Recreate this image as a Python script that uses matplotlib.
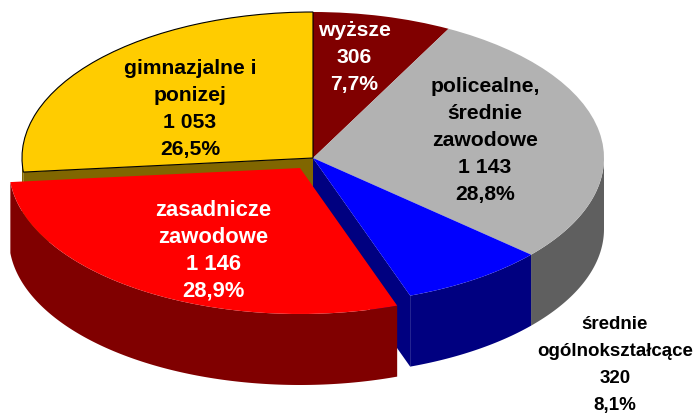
import numpy as np
import matplotlib
matplotlib.use('Agg')
import matplotlib.pyplot as plt
from matplotlib.patches import Wedge, Polygon
from matplotlib.transforms import Affine2D

plt.rcParams['font.family'] = ['Liberation Sans', 'DejaVu Sans']

# slices clockwise from 12 o'clock
names = ['wyższe', 'policealne,\nśrednie\nzawodowe', 'średnie\nogólnokształcące',
         'zasadnicze\nzawodowe', 'gimnazjalne i\nponizej']
values = [306, 1143, 320, 1146, 1053]
value_labels = ['306', '1 143', '320', '1 146', '1 053']
pct_labels = ['7,7%', '28,8%', '8,1%', '28,9%', '26,5%']

top_colors = ['#800000', '#B2B2B2', '#0000FF', '#FF0000', '#FFCC00']
side_colors = ['#800000', '#5F5F5F', '#000080', '#800000', '#806600']
text_colors = ['white', 'black', 'black', 'white', 'black']
offsets = [(0, 0), (0, 0), (0, 0), (-13, 10), (0, 0)]
label_pos = [(354, 31), (485, 87), (615, 325), (213, 211), (190, 69)]
label_size = [15.2, 15.2, 13.5, 15.8, 15.2]

cx, cy = 313, 159
rx, ry = 291, 146
depth = 71
line_h = 26.8

fig = plt.figure(figsize=(6.96, 4.14), dpi=100)
ax = fig.add_axes([0, 0, 1, 1])
ax.set_xlim(0, 696)
ax.set_ylim(414, 0)
ax.axis('off')

fractions = np.cumsum([0] + values) / sum(values)
thetas = -90 + 360 * fractions


def rim_point(theta, dx=0, dy=0):
    t = np.radians(theta)
    return cx + dx + rx * np.cos(t), cy + dy + ry * np.sin(t)


def draw_rim(i):
    t1, t2 = max(thetas[i], 0), min(thetas[i + 1], 180)
    if t2 <= t1:
        return
    dx, dy = offsets[i]
    t = np.linspace(t1, t2, 120)
    x, y = rim_point(t, dx, dy)
    pts = np.r_[np.c_[x, y], np.c_[x[::-1], y[::-1] + depth]]
    ax.add_patch(Polygon(pts, closed=True, fc=side_colors[i], ec='none', zorder=2))


def draw_cut(theta, color, zorder=1):
    x, y = rim_point(theta)
    pts = [(cx, cy), (x, y), (x, y + depth), (cx, cy + depth)]
    ax.add_patch(Polygon(pts, closed=True, fc=color, ec='none', zorder=zorder))


def draw_top(i, zorder=3, edge='none', lw=0):
    dx, dy = offsets[i]
    tr = Affine2D().scale(rx, ry).translate(cx + dx, cy + dy) + ax.transData
    ax.add_patch(Wedge((0, 0), 1, thetas[i], thetas[i + 1], transform=tr,
                       fc=top_colors[i], ec=edge, lw=lw, zorder=zorder))


# walls at the back of the gap left by the pulled out red slice
draw_cut(thetas[4], side_colors[4])
draw_cut(thetas[3], side_colors[2])
draw_rim(4)

for i in [0, 1, 2]:
    draw_rim(i)
    draw_top(i)
draw_top(4, edge='black', lw=0.8)

# red slice goes on top of everything
draw_rim(3)
draw_top(3, zorder=5)

for i in range(len(names)):
    lines = names[i].split('\n') + [value_labels[i], pct_labels[i]]
    x, y = label_pos[i]
    for j, line in enumerate(lines):
        ax.text(x, y + j * line_h, line, ha='center', va='center', color=text_colors[i],
                fontsize=label_size[i], fontweight='bold', zorder=6)

fig.savefig('out.png', dpi=100)
